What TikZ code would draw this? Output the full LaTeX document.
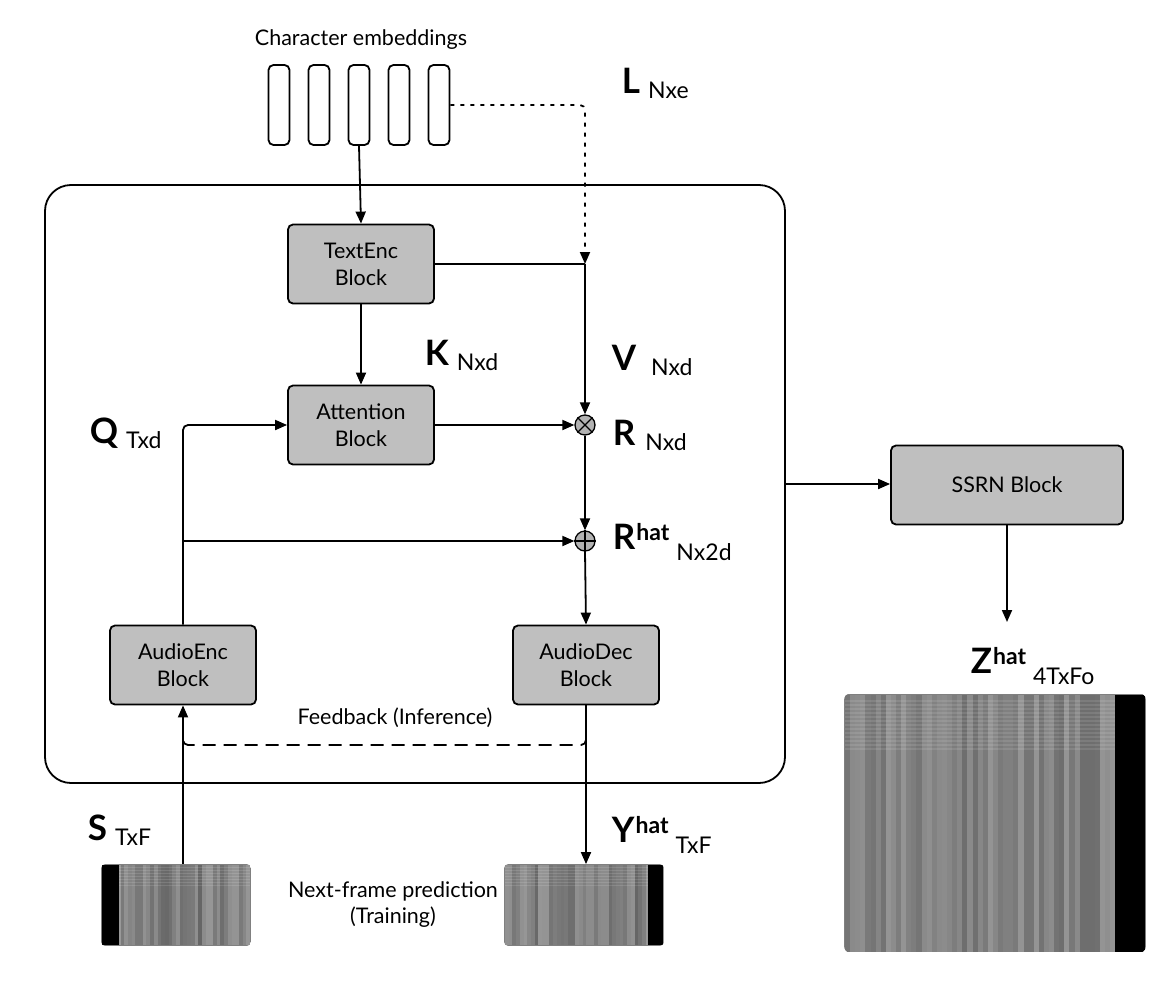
\documentclass[tikz,border=0pt]{standalone}
\usepackage{fontspec}
\setmainfont{Lato}
\usetikzlibrary{arrows.meta}
\newcommand{\biglab}[3][8pt]{{\fontsize{35}{35}\selectfont\bfseries #2}\hspace{#1}\raisebox{-5pt}{\fontsize{23}{23}\selectfont #3}}
\newcommand{\hatlab}[3]{{\fontsize{35}{35}\selectfont\bfseries #1}\hspace{1pt}\raisebox{9pt}{\fontsize{23}{23}\selectfont\bfseries #2}\hspace{7pt}\raisebox{-11pt}{\fontsize{23}{23}\selectfont #3}}
\begin{document}
\begin{tikzpicture}[x=1pt,y=-1pt, line width=1.8pt,
  blk/.style={draw, fill=black!25, rounded corners=5pt, minimum width=146pt, minimum height=79pt, align=center, font=\fontsize{21.5}{27}\selectfont, inner sep=0pt},
  emb/.style={draw, rounded corners=5pt, minimum width=21pt, minimum height=80pt, inner sep=0pt},
  arr/.style={-{Triangle[length=12pt,width=10pt]}},
  op/.style={circle, draw, fill=black!30, minimum size=20pt, inner sep=0pt, line width=1.3pt},
  lab/.style={anchor=base west, inner sep=0pt},
  txt/.style={font=\fontsize{21.5}{26}\selectfont, align=center, inner sep=0pt},
  spec/.style={inner sep=0pt}
]
\useasboundingbox (0,0) rectangle (1169,985);

% main frame
\node[draw, rounded corners=26pt, minimum width=740pt, minimum height=598pt, inner sep=0pt] (frame) at (415,484) {};

% character embeddings
\node[txt] (cetext) at (361,40) {Character embeddings};
\foreach \i/\x in {1/279,2/319,3/359,4/399,5/439}
  \node[emb] (e\i) at (\x,105) {};

% blocks
\node[blk] (te) at (361,264) {TextEnc\\Block};
\node[blk] (att) at (361,425) {Attention\\Block};
\node[blk] (ae) at (183,665) {AudioEnc\\Block};
\node[blk] (ad) at (586,665) {AudioDec\\Block};
\node[blk, minimum width=232pt] (ssrn) at (1007,485) {SSRN Block};

% operators
\node[op] (mul) at (585,425) {};
\draw[line width=1.2pt] (mul.north west) -- (mul.south east) (mul.north east) -- (mul.south west);
\node[op] (add) at (585,541) {};
\draw[line width=1.2pt] (add.north) -- (add.south) (add.west) -- (add.east);

% spectrogram nodes (for naming)
\node[spec, minimum width=148pt, minimum height=80pt] (S) at (176,905) {};
\node[spec, minimum width=158pt, minimum height=80pt] (Y) at (584,905) {};
\node[spec, minimum width=300pt, minimum height=257pt] (Z) at (995,823) {};

% spectrogram textures
\pgfmathsetseed{11}
\begin{scope}
  \clip[rounded corners=4pt] (S.north west) rectangle (S.south east);
  \fill[black!50] (S.north west) rectangle (S.south east);
  \foreach \k in {0,...,39}{
    \pgfmathtruncatemacro\sh{40+22*rnd}
    \fill[black!\sh] (102+\k*3.7,865) rectangle ++(3.7,80);
  }
  \foreach \j in {0,...,6}{
    \fill[white, opacity=0.12] (102,867+\j*3) rectangle (250,868.2+\j*3);
  }
  \fill[black] (102,865) rectangle (119,945);
\end{scope}
\begin{scope}
  \clip[rounded corners=4pt] (Y.north west) rectangle (Y.south east);
  \fill[black!50] (Y.north west) rectangle (Y.south east);
  \foreach \k in {0,...,42}{
    \pgfmathtruncatemacro\sh{40+22*rnd}
    \fill[black!\sh] (505+\k*3.7,865) rectangle ++(3.7,80);
  }
  \foreach \j in {0,...,6}{
    \fill[white, opacity=0.12] (505,867+\j*3) rectangle (663,868.2+\j*3);
  }
  \fill[black] (648,865) rectangle (663,945);
\end{scope}
\begin{scope}
  \clip[rounded corners=6pt] (Z.north west) rectangle (Z.south east);
  \fill[black!50] (Z.north west) rectangle (Z.south east);
  \foreach \k in {0,...,53}{
    \pgfmathtruncatemacro\sh{42+16*rnd}
    \fill[black!\sh] (845+\k*5.1,695) rectangle ++(5.1,257);
  }
  \foreach \j in {0,...,12}{
    \fill[white, opacity=0.1] (845,700+\j*4) rectangle (1145,701.5+\j*4);
  }
  \fill[black] (1115,695) rectangle (1145,952);
\end{scope}

% connectors
\coordinate (vj) at (te.east -| mul.north);
\draw[arr] (e3.south) -- (te.north);
\draw[arr, dash pattern=on 4pt off 6pt, rounded corners=5pt] (e5.east) -| (vj);
\draw (te.east) -- (vj);
\draw[arr] (vj) -- (mul.north);
\draw[arr] (te.south) -- (att.north);
\draw[arr] (att.east) -- (mul.west);
\draw[arr] (mul.south) -- (add.north);
\draw[arr] (add.south) -- (ad.north);
\draw[arr, rounded corners=5pt] (ae.north) |- (att.west);
\coordinate (qb) at (ae.north |- add.west);
\draw[arr] (qb) -- (add.west);
\draw[arr] (S.north -| ae.south) -- (ae.south);
\draw[arr] (ad.south) -- (ad.south |- Y.north);
\coordinate (fbR) at (ad.south |- 0,735);
\coordinate (fbL) at (ae.south |- 0,735);
\draw[dash pattern=on 13pt off 8pt, rounded corners=5pt] (fbR) -- ++(0,10) -| (fbL);
\draw[arr] (frame.east) -- (frame.east -| ssrn.west);
\coordinate (zt) at (ssrn.south |- 0,622);
\draw[arr] (ssrn.south) -- (zt);

% texts
\node[txt] (fbtext) at (395,718) {Feedback (Inference)};
\node[txt] (nftext) at (393,905) {Next-frame prediction\\(Training)};

% math-like labels
\node[lab] (Llab) at (621,93) {\biglab{L}{Nxe}};
\node[lab] (Klab) at (424,365) {\biglab{K}{Nxd}};
\node[lab] (Vlab) at (611,370) {\biglab[15pt]{V}{Nxd}};
\node[lab] (Qlab) at (89,443) {\biglab{Q}{Txd}};
\node[lab] (Rlab) at (612,445) {\biglab[10pt]{R}{Nxd}};
\node[lab] (Rhlab) at (612,549) {\hatlab{R}{hat}{Nx2d}};
\node[lab] (Zlab) at (970,673) {\hatlab{Z}{hat}{4TxFo}};
\node[lab] (Slab) at (87,840) {\biglab{S}{TxF}};
\node[lab] (Ylab) at (611,842) {\hatlab{Y}{hat}{TxF}};
\end{tikzpicture}
\end{document}
